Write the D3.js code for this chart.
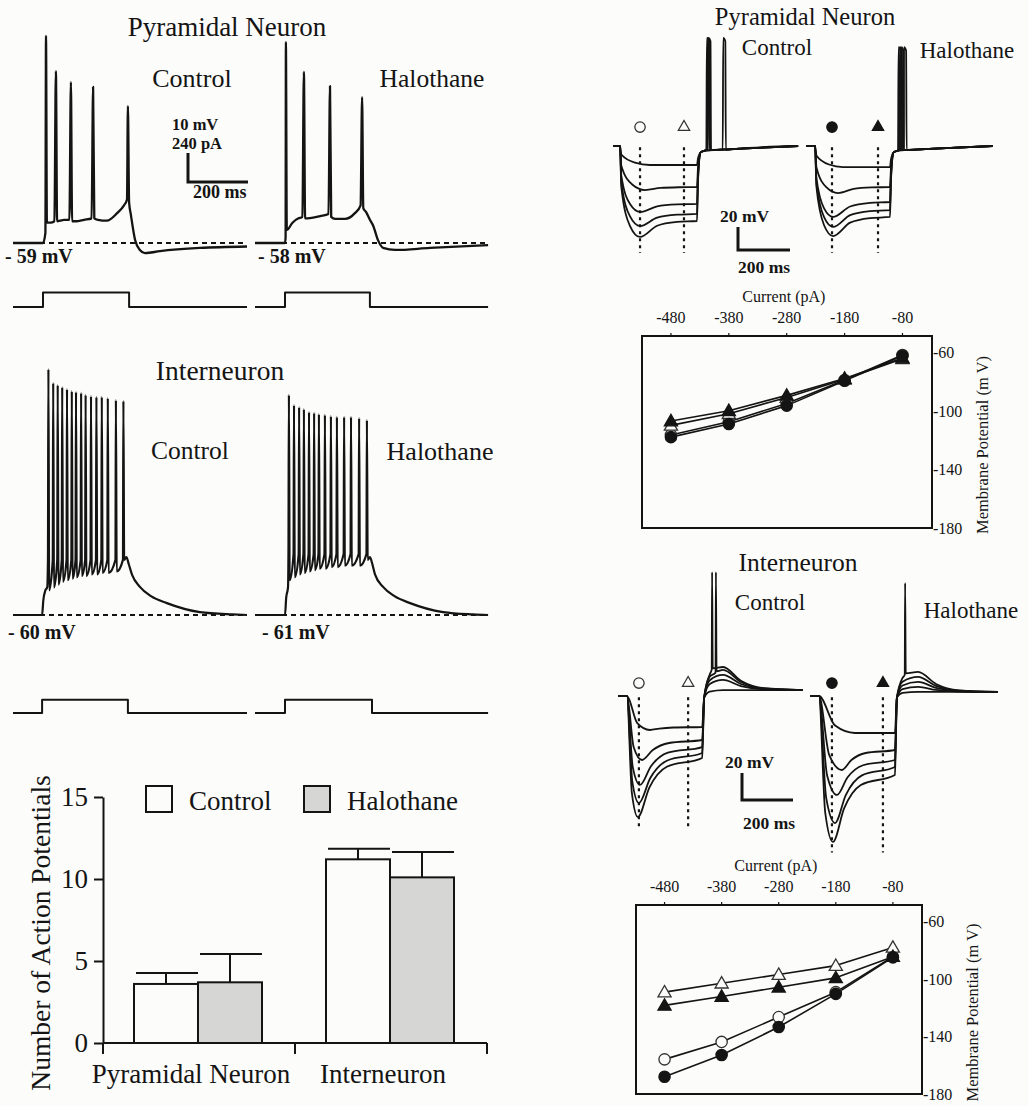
<!DOCTYPE html>
<html><head><meta charset="utf-8">
<script src="https://cdn.jsdelivr.net/npm/d3@7/dist/d3.min.js"></script>
<style>
html,body{margin:0;padding:0;background:#fcfcfa;}
svg{display:block;}
text{font-family:'Liberation Serif','Times New Roman',Times,serif;fill:#141414;}
</style></head><body>
<svg id="fig" width="1028" height="1106"></svg>
<script>
// ====================== DATA ======================
// --- Firing traces, pyramidal neuron (t in ms, V in mV) ---
const pyrRestCtrl = -59, pyrRestHalo = -58;
const pyrCtrlTrace = [[0,-59],[100,-59],[108,-55.5],[110,12.4],[113,-52],[125,-52],[138,-51.5],[143,0.3],[147,-51.5],[157,-51.3],[170,-51],[188,-51],[193,-3.5],[197,-51.5],[210,-51.5],[237,-51],[262,-50.5],[267,-5.2],[271,-50.5],[283,-51],[313,-51.3],[347,-48.7],[370,-46],[380,-44],[383,-11.8],[387,-45],[393,-49.3],[407,-58],[423,-61.4],[440,-62.5],[490,-61.8],[623,-60.7],[780,-60.2]];
const pyrHaloTrace = [[0,-58],[100,-58],[102,-56],[103,11.3],[106,-53.5],[125,-51],[145,-49.5],[158,-49],[163,1],[167,-49.5],[183,-49.4],[217,-48.7],[245,-48],[250,-3.9],[254,-49],[267,-49.7],[300,-49.7],[333,-47.7],[352,-45],[357,-7.7],[361,-46],[370,-47.3],[383,-50],[393,-51.8],[410,-57],[427,-59.7],[467,-60.4],[583,-59.7],[777,-58.7]];
const pyrCtrlStep = [100, 387], pyrHaloStep = [100, 383];
const pyrStepAmp = 120; // pA

// --- Firing traces, interneuron ---
const intRestCtrl = -60, intRestHalo = -61;
const intCtrlPre = [[0,-60],[97,-60],[101,-55],[108,-51.5],[114,-50.5]];
const intCtrlSpikeT = [118,134,149,164,180,196,210,227,242,260,278,296,316,343,368];
const intCtrlSpikePeak = [24.8,20,19.3,18.6,17.9,17.2,16.9,16.6,15.9,15.5,15.2,15.2,14.8,14.1,13.8];
const intCtrlTrough = [-51.5,-50.5,-49.5,-48.5,-48,-47.5,-47,-46.5,-46.5,-46,-46,-45.5,-45.5,-45,-41];
const intCtrlThr = -41;
const intCtrlPost = [[378,-40],[386,-42.5],[397,-46.2],[423,-50.3],[460,-53.5],[513,-55.9],[623,-59],[733,-59.8],[780,-60]];
const intHaloPre = [[5,-61],[100,-61],[104,-55],[110,-51.5]];
const intHaloSpikeT = [113,130,147,163,180,197,213,233,253,273,297,320,347,373];
const intHaloSpikePeak = [14.9,11.4,10.7,10,9,8.7,8.3,8,7.6,7.3,7.3,7.3,6.9,6.2];
const intHaloTrough = [-49,-48,-47,-46.5,-46,-45.5,-45,-45,-44.5,-44.5,-44,-44,-44,-42];
const intHaloThr = -40;
const intHaloPost = [[383,-41],[390,-43],[400,-47],[427,-51.3],[465,-54.5],[517,-56.9],[627,-60],[727,-60.8],[777,-61]];
const intCtrlStep = [97, 383], intHaloStep = [100, 390];
const intStepAmp = 110; // pA

// --- Bar chart ---
const barCategories = ["Pyramidal Neuron", "Interneuron"];
const barSeries = ["Control", "Halothane"];
const controlMeans = [3.6, 11.2];
const controlSEM = [0.67, 0.65];
const halothaneMeans = [3.7, 10.1];
const halothaneSEM = [1.73, 1.55];
const barTicks = [0, 5, 10, 15];

// --- Hyperpolarizing sweeps, pyramidal (right) ---
const hypHold = -60;
const hypPyrCtrlStep = [27, 323], hypPyrHaloStep = [35, 323];
const hypPyrCtrlMinT = [142,123,104,104,104];
const hypPyrCtrlMin = [-76.5,-98.3,-117.4,-129.6,-139.1];
const hypPyrCtrlSteady = [-76.5,-95.7,-110.4,-119.1,-125.2];
const hypPyrCtrlSpikeT = [null,423,366,363,360];
const hypPyrCtrlSpikePeak = 34;
const hypPyrHaloMinT = [142,123,104,104,104];
const hypPyrHaloMin = [-78.3,-100.9,-121.7,-130.4,-138.3];
const hypPyrHaloSteady = [-78.3,-95.7,-108.7,-115.7,-121.7];
const hypPyrHaloSpikeT = [null,376,366,360,355];
const hypPyrHaloSpikePeak = 26;
const hypPyrEnd = [712, 719]; // ctrl, halo (ms)
const hypPyrCtrlMarkT = [104, 273], hypPyrHaloMarkT = [100, 277];

// --- Hyperpolarizing sweeps, interneuron (right) ---
const hypIntCtrlStep = [35, 330], hypIntHaloStep = [35, 333];
const hypIntCtrlMinT = [125,94,86,82,78];
const hypIntCtrlMin = [-85.2,-107.4,-125.9,-139.3,-149.6];
const hypIntCtrlSteady = [-83,-92.6,-97.8,-102.2,-105.9];
const hypIntCtrlRebound = [-55.6,-48.1,-44.4,-40.7,-38.5];
const hypIntCtrlSpikeT = [null,null,null,384,369];
const hypIntCtrlSpikePeak = 31.8;
const hypIntHaloMinT = [176,125,106,98,90];
const hypIntHaloMin = [-87.4,-114.8,-133.3,-154.1,-168.1];
const hypIntHaloSteady = [-87.4,-100,-107.4,-112.6,-118.5];
const hypIntHaloRebound = [-57,-53.3,-49.6,-45.9,-42.2];
const hypIntHaloSpikeT = [null,null,null,null,373];
const hypIntHaloSpikePeak = 23.7;
const hypIntReboundT = [412, 424];
const hypIntEnd = [[725,-55.6],[737,-57]];
const hypIntCtrlMarkT = [82, 275], hypIntHaloMarkT = [86, 286];

// --- I-V curves ---
const ivCurrents = [-480, -380, -280, -180, -80];
const ivVTicks = [-60, -100, -140, -180];
const ivPyrCtrlEarly = [-116.5,-107.5,-95,-79,-62];
const ivPyrHaloEarly = [-118,-109,-96.5,-79.5,-62.5];
const ivPyrCtrlLate  = [-110,-102,-91,-78.5,-64.5];
const ivPyrHaloLate  = [-107,-100,-89.5,-78,-64];
const ivIntCtrlEarly = [-156,-143.9,-126.7,-109.4,-84.8];
const ivIntHaloEarly = [-168,-153,-133.6,-110.6,-85.3];
const ivIntCtrlLate  = [-109.4,-103.2,-97.2,-91,-78.4];
const ivIntHaloLate  = [-118.6,-112.4,-106,-99.5,-84.8];

// ====================== DRAWING ======================
const svg = d3.select("#fig");
const INK = "#141414";
const SERIF = "'Liberation Serif','Times New Roman',Times,serif";
const lineGen = (x, y, curve) => d3.line().x(d => x(d[0])).y(d => y(d[1])).curve(curve || d3.curveMonotoneX);

function path(g, pts, x, y, w, curve, extra) {
  const p = g.append("path").attr("d", lineGen(x, y, curve)(pts))
    .attr("fill", "none").attr("stroke", INK).attr("stroke-width", w)
    .attr("stroke-linejoin", "round").attr("stroke-linecap", "butt");
  if (extra) extra(p);
  return p;
}
function text(g, x, y, s, size, o) {
  o = o || {};
  const t = g.append("text").attr("x", x).attr("y", y).text(s).attr("font-size", size)
    .attr("font-family", SERIF).attr("fill", INK)
    .attr("text-anchor", o.anchor || "start").attr("font-weight", o.bold ? "bold" : "normal");
  if (o.rotate) t.attr("transform", `rotate(${o.rotate},${x},${y})`);
  return t;
}
const lerp = (a, b, f) => a + (b - a) * f;

function spikeTrain(pre, times, peaks, troughs, thr, post) {
  const pts = pre.slice();
  times.forEach((t, i) => pts.push([t - 1.5, thr], [t, peaks[i]], [t + 2.5, troughs[i]]));
  return pts.concat(post);
}
function stepPts(step, amp, t0, tEnd) {
  return [[t0, 0], [step[0], 0], [step[0], amp], [step[1], amp], [step[1], 0], [tEnd, 0]];
}
function scaleBar(g, x0, y0, lenX, lenY) {
  g.append("path").attr("d", `M${x0},${y0 - lenY}V${y0}H${x0 + lenX}`)
    .attr("fill", "none").attr("stroke", INK).attr("stroke-width", 3);
}

// ---------- Panel: pyramidal firing (left top) ----------
{
  const g = svg.append("g");
  const xC = d3.scaleLinear().domain([0, 780]).range([13, 247]);
  const xH = d3.scaleLinear().domain([0, 780]).range([255, 489]);
  const yC = d3.scaleLinear().domain([pyrRestCtrl, pyrRestCtrl + 10]).range([243, 214]);
  const yH = d3.scaleLinear().domain([pyrRestHalo, pyrRestHalo + 10]).range([243, 214]);
  const yI = d3.scaleLinear().domain([0, 240]).range([307, 278]);
  const dash = p => p.attr("stroke-dasharray", "5,4");
  path(g, [[0, pyrRestCtrl], [780, pyrRestCtrl]], xC, yC, 2, d3.curveLinear, dash);
  path(g, [[0, pyrRestHalo], [777, pyrRestHalo]], xH, yH, 2, d3.curveLinear, dash);
  path(g, pyrCtrlTrace, xC, yC, 2.3);
  path(g, pyrHaloTrace, xH, yH, 2.3);
  path(g, stepPts(pyrCtrlStep, pyrStepAmp, 0, 780), xC, yI, 2, d3.curveLinear);
  path(g, stepPts(pyrHaloStep, pyrStepAmp, 0, 777), xH, yI, 2, d3.curveLinear);
  scaleBar(g, 188, 182, xC(200) - xC(0), yC(pyrRestCtrl) - yC(pyrRestCtrl + 10));
  text(g, 227, 36, "Pyramidal Neuron", 27, {anchor: "middle"});
  text(g, 192, 87, "Control", 26, {anchor: "middle"});
  text(g, 432, 87, "Halothane", 25.5, {anchor: "middle"});
  text(g, 172, 130, "10 mV", 16.5, {bold: true});
  text(g, 172, 149, "240 pA", 16.5, {bold: true});
  text(g, 193, 198, "200 ms", 18, {bold: true});
  text(g, 5, 263, "- 59 mV", 20, {bold: true});
  text(g, 258, 263, "- 58 mV", 20, {bold: true});
}

// ---------- Panel: interneuron firing (left middle) ----------
{
  const g = svg.append("g");
  const xC = d3.scaleLinear().domain([0, 780]).range([13, 247]);
  const xH = d3.scaleLinear().domain([0, 780]).range([255, 489]);
  const yC = d3.scaleLinear().domain([intRestCtrl, intRestCtrl + 10]).range([615, 586]);
  const yH = d3.scaleLinear().domain([intRestHalo, intRestHalo + 10]).range([615, 586]);
  const yI = d3.scaleLinear().domain([0, 240]).range([713, 684]);
  const dash = p => p.attr("stroke-dasharray", "5,4");
  path(g, [[0, intRestCtrl], [780, intRestCtrl]], xC, yC, 2, d3.curveLinear, dash);
  path(g, [[0, intRestHalo], [777, intRestHalo]], xH, yH, 2, d3.curveLinear, dash);
  path(g, spikeTrain(intCtrlPre, intCtrlSpikeT, intCtrlSpikePeak, intCtrlTrough, intCtrlThr, intCtrlPost), xC, yC, 2.2);
  path(g, spikeTrain(intHaloPre, intHaloSpikeT, intHaloSpikePeak, intHaloTrough, intHaloThr, intHaloPost), xH, yH, 2.2);
  path(g, stepPts(intCtrlStep, intStepAmp, 0, 780), xC, yI, 2, d3.curveLinear);
  path(g, stepPts(intHaloStep, intStepAmp, 0, 777), xH, yI, 2, d3.curveLinear);
  text(g, 220, 380, "Interneuron", 27.5, {anchor: "middle"});
  text(g, 190, 459, "Control", 25.5, {anchor: "middle"});
  text(g, 440, 460, "Halothane", 26, {anchor: "middle"});
  text(g, 8, 639, "- 60 mV", 20, {bold: true});
  text(g, 262, 639, "- 61 mV", 20, {bold: true});
}

// ---------- Bar chart ----------
{
  const g = svg.append("g");
  const x = d3.scaleBand().domain(barCategories).range([103, 487]);
  const xs = d3.scaleBand().domain(barSeries).range([0, 128]);
  const off = (x.bandwidth() - 128) / 2 - 1;
  const y = d3.scaleLinear().domain([0, 15]).range([1043, 797]);
  const series = [
    {name: "Control", means: controlMeans, err: controlSEM, fill: "#fcfcfa"},
    {name: "Halothane", means: halothaneMeans, err: halothaneSEM, fill: "#d6d6d4"}
  ];
  series.forEach(s => {
    barCategories.forEach((c, i) => {
      const bx = x(c) + off + xs(s.name), bw = xs.bandwidth();
      g.append("rect").attr("x", bx).attr("y", y(s.means[i])).attr("width", bw)
        .attr("height", y(0) - y(s.means[i])).attr("fill", s.fill).attr("stroke", INK).attr("stroke-width", 2);
      const top = y(s.means[i] + s.err[i]);
      g.append("line").attr("x1", bx + bw / 2).attr("x2", bx + bw / 2).attr("y1", y(s.means[i])).attr("y2", top)
        .attr("stroke", INK).attr("stroke-width", 2);
      g.append("line").attr("x1", bx + 2).attr("x2", bx + bw).attr("y1", top).attr("y2", top)
        .attr("stroke", INK).attr("stroke-width", 2);
    });
  });
  const ax = g.append("g").attr("transform", `translate(103,0)`)
    .call(d3.axisLeft(y).tickValues(barTicks).tickSize(9).tickSizeOuter(0).tickPadding(6));
  ax.attr("font-family", SERIF);
  ax.select(".domain").attr("stroke", INK).attr("stroke-width", 2);
  ax.selectAll(".tick line").attr("stroke", INK).attr("stroke-width", 2);
  ax.selectAll(".tick text").attr("font-size", 27).attr("fill", INK).attr("font-family", SERIF);
  // x axis
  const edges = [x.range()[0]].concat(barCategories.map(c => x(c) + x.bandwidth()));
  g.append("line").attr("x1", edges[0]).attr("x2", edges[edges.length - 1]).attr("y1", y(0)).attr("y2", y(0))
    .attr("stroke", INK).attr("stroke-width", 2);
  edges.forEach(e => g.append("line").attr("x1", e).attr("x2", e).attr("y1", y(0)).attr("y2", y(0) + 11)
    .attr("stroke", INK).attr("stroke-width", 2));
  barCategories.forEach(c => text(g, x(c) + x.bandwidth() / 2 - 8, 1083, c, 27, {anchor: "middle"}));
  text(g, 50, 933, "Number of Action Potentials", 27.5, {anchor: "middle", rotate: -90});
  // legend
  [[146, "Control", "#fcfcfa"], [304, "Halothane", "#d6d6d4"]].forEach(([lx, name, f]) => {
    g.append("rect").attr("x", lx).attr("y", 786).attr("width", 26).attr("height", 26)
      .attr("fill", f).attr("stroke", INK).attr("stroke-width", 2);
    text(g, lx + 43, 810, name, 27);
  });
}

// ---------- Sweep builders ----------
function pyrSweep(step, minT, minV, steady, spikeT, spikePeak, endT) {
  const [on, off] = step, h = hypHold;
  const pts = [[0, h], [on, h], [on + 5, lerp(h, minV, 0.45)], [on + 0.5 * (minT - on), lerp(h, minV, 0.88)], [minT, minV],
    [minT + 0.3 * (off - minT), lerp(steady, minV, 0.3)], [minT + 0.65 * (off - minT), lerp(steady, minV, 0.06)], [off, steady],
    [off + 4, lerp(steady, -67, 0.6)], [off + 14, -65.5], [off + 30, -64]];
  if (spikeT != null) pts.push([spikeT - 1, -63], [spikeT + 1, spikePeak], [spikeT + 9, spikePeak - 3], [spikeT + 11, -63.5]);
  pts.push([off + 150, -62.5], [endT, h]);
  return pts;
}
function intSweep(step, minT, minV, steady, reb, rebT, spikeT, spikePeak, end) {
  const [on, off] = step, h = hypHold;
  const pts = [[0, h], [on, h], [on + 0.45 * (minT - on), lerp(h, minV, 0.8)], [minT, minV],
    [minT + 0.18 * (off - minT), lerp(minV, steady, 0.5)], [minT + 0.45 * (off - minT), lerp(minV, steady, 0.85)], [off, steady],
    [off + 8, h - 1], [off + 30, lerp(h, reb, 0.75)]];
  if (spikeT != null) pts.push([spikeT - 1.5, reb - 2], [spikeT, spikePeak], [spikeT + 2.5, reb - 1]);
  pts.push([rebT, reb], [rebT + 70, lerp(end[1], reb, 0.4)], [rebT + 160, lerp(end[1], reb, 0.08)], [end[0], end[1]]);
  return pts;
}
function marker(g, type, filled, cx, cy, size) {
  g.append("path").attr("d", d3.symbol(type === "circle" ? d3.symbolCircle : d3.symbolTriangle).size(size)())
    .attr("transform", `translate(${cx},${cy})`)
    .attr("fill", filled ? INK : "#fcfcfa").attr("stroke", filled ? INK : "#333").attr("stroke-width", 1.3);
}

// ---------- Panel: pyramidal hyperpolarizing sweeps (right top) ----------
{
  const g = svg.append("g");
  const xC = d3.scaleLinear().domain([0, 100]).range([613, 639]);
  const xH = d3.scaleLinear().domain([0, 100]).range([806, 832]);
  const y = d3.scaleLinear().domain([-60, -40]).range([146, 123]);
  const dot = p => p.attr("stroke-dasharray", "3,4");
  [[xC, hypPyrCtrlMarkT, false], [xH, hypPyrHaloMarkT, true]].forEach(([x, mt, filled]) => {
    mt.forEach(t => path(g, [[t, -61], [t + 0.01, -153]], x, y, 2.2, d3.curveLinear, dot));
    marker(g, "circle", filled, x(mt[0]), y(-43.5), 85);
    marker(g, "triangle", filled, x(mt[1]), y(-43.5), 55);
  });
  hypPyrCtrlMin.forEach((m, i) => path(g, pyrSweep(hypPyrCtrlStep, hypPyrCtrlMinT[i], m, hypPyrCtrlSteady[i], hypPyrCtrlSpikeT[i], hypPyrCtrlSpikePeak, hypPyrEnd[0]), xC, y, 1.8));
  hypPyrHaloMin.forEach((m, i) => path(g, pyrSweep(hypPyrHaloStep, hypPyrHaloMinT[i], m, hypPyrHaloSteady[i], hypPyrHaloSpikeT[i], hypPyrHaloSpikePeak, hypPyrEnd[1]), xH, y, 1.8));
  scaleBar(g, 738, 250, xC(200) - xC(0), y(-60) - y(-40));
  text(g, 805, 25, "Pyramidal Neuron", 24.5, {anchor: "middle"});
  text(g, 777, 55, "Control", 23, {anchor: "middle"});
  text(g, 967, 58, "Halothane", 23, {anchor: "middle"});
  text(g, 720, 222, "20 mV", 17.5, {bold: true});
  text(g, 738, 273, "200 ms", 17.5, {bold: true});
}

// ---------- Panel: interneuron hyperpolarizing sweeps (right middle) ----------
{
  const g = svg.append("g");
  const xC = d3.scaleLinear().domain([0, 100]).range([618, 643.5]);
  const xH = d3.scaleLinear().domain([0, 100]).range([810, 835.5]);
  const y = d3.scaleLinear().domain([-60, -40]).range([696, 669]);
  const dot = p => p.attr("stroke-dasharray", "3,4");
  [[xC, hypIntCtrlMarkT, false, -157], [xH, hypIntHaloMarkT, true, -176]].forEach(([x, mt, filled, bottom]) => {
    mt.forEach(t => path(g, [[t, -61], [t + 0.01, bottom]], x, y, 2.2, d3.curveLinear, dot));
    marker(g, "circle", filled, x(mt[0]), y(-50.4), 85);
    marker(g, "triangle", filled, x(mt[1]), y(-50.4), 55);
  });
  hypIntCtrlMin.forEach((m, i) => path(g, intSweep(hypIntCtrlStep, hypIntCtrlMinT[i], m, hypIntCtrlSteady[i], hypIntCtrlRebound[i], hypIntReboundT[0], hypIntCtrlSpikeT[i], hypIntCtrlSpikePeak, hypIntEnd[0]), xC, y, 1.8));
  hypIntHaloMin.forEach((m, i) => path(g, intSweep(hypIntHaloStep, hypIntHaloMinT[i], m, hypIntHaloSteady[i], hypIntHaloRebound[i], hypIntReboundT[1], hypIntHaloSpikeT[i], hypIntHaloSpikePeak, hypIntEnd[1]), xH, y, 1.8));
  scaleBar(g, 742, 800, xC(200) - xC(0), y(-60) - y(-40));
  text(g, 798, 571, "Interneuron", 25.5, {anchor: "middle"});
  text(g, 770, 610, "Control", 23, {anchor: "middle"});
  text(g, 971, 618, "Halothane", 23, {anchor: "middle"});
  text(g, 725, 768, "20 mV", 17.5, {bold: true});
  text(g, 743, 829, "200 ms", 17.5, {bold: true});
}

// ---------- I-V plots ----------
function ivPlot(box, sets) {
  const g = svg.append("g");
  const x = d3.scaleLinear().domain([-530, -29]).range([box[0], box[1]]);
  const y = d3.scaleLinear().domain([-180, -49]).range([box[3], box[2]]);
  g.append("rect").attr("x", box[0]).attr("y", box[2]).attr("width", box[1] - box[0]).attr("height", box[3] - box[2])
    .attr("fill", "none").attr("stroke", INK).attr("stroke-width", 2);
  ivCurrents.forEach(c => {
    g.append("line").attr("x1", x(c)).attr("x2", x(c)).attr("y1", box[2]).attr("y2", box[2] - 3).attr("stroke", INK).attr("stroke-width", 1.2);
    text(g, x(c), box[2] - 13, String(c), 16, {anchor: "middle"});
  });
  ivVTicks.forEach(v => text(g, box[1] + 1, y(v) + 6, String(v), 16));
  text(g, x(-285), box[2] - 34, "Current (pA)", 16, {anchor: "middle"});
  text(g, box[1] + 56, (box[2] + box[3]) / 2 + 13, "Membrane Potential (m V)", 16.5, {anchor: "middle", rotate: -90});
  sets.forEach(s => {
    const pts = ivCurrents.map((c, i) => [c, s.v[i]]);
    path(g, pts, x, y, 1.6, d3.curveLinear);
  });
  sets.forEach(s => ivCurrents.forEach((c, i) =>
    marker(g, s.shape, s.filled, x(c), y(s.v[i]) + (s.shape === "triangle" ? 1 : 0), s.shape === "circle" ? 100 : 75)));
}
ivPlot([642, 932, 336, 528], [
  {v: ivPyrCtrlEarly, shape: "circle", filled: false},
  {v: ivPyrCtrlLate, shape: "triangle", filled: false},
  {v: ivPyrHaloEarly, shape: "circle", filled: true},
  {v: ivPyrHaloLate, shape: "triangle", filled: true}
]);
ivPlot([636, 922, 905, 1094], [
  {v: ivIntCtrlEarly, shape: "circle", filled: false},
  {v: ivIntCtrlLate, shape: "triangle", filled: false},
  {v: ivIntHaloEarly, shape: "circle", filled: true},
  {v: ivIntHaloLate, shape: "triangle", filled: true}
]);
</script>
</body></html>
